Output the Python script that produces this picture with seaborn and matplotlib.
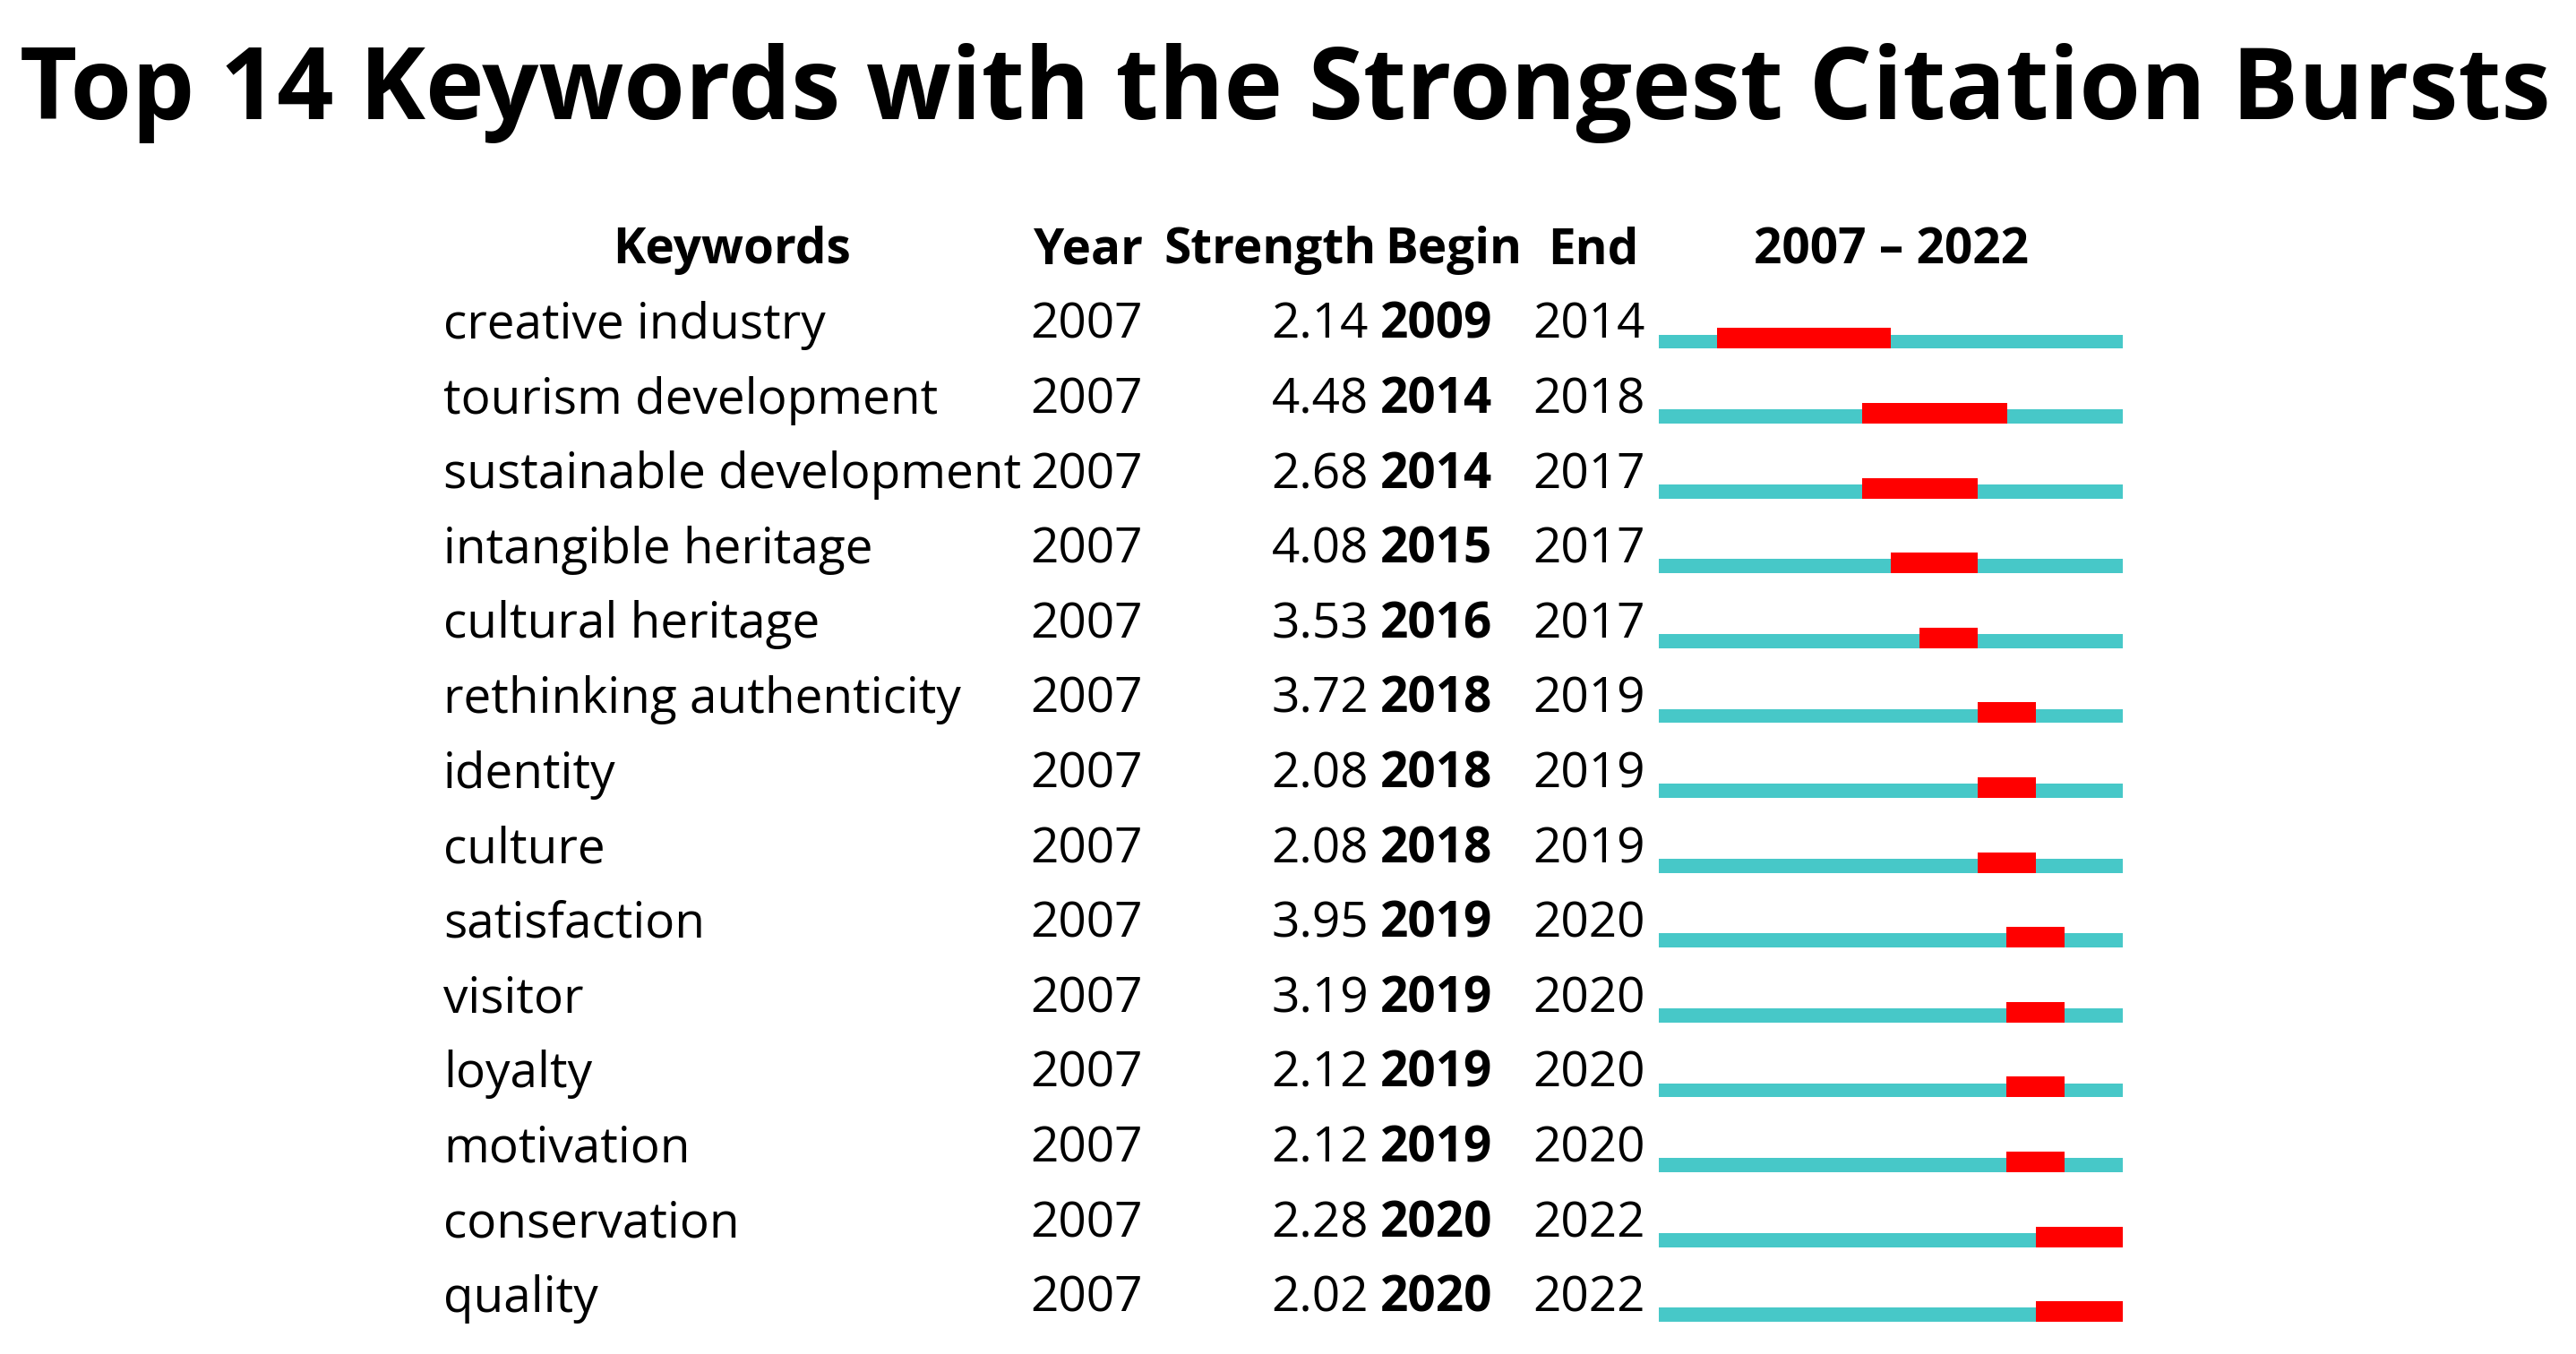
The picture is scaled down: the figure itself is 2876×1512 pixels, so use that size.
import numpy as np
import matplotlib
matplotlib.use("Agg")
import matplotlib.pyplot as plt
import matplotlib.transforms as mtransforms
import seaborn as sns

# data
keywords = ["creative industry", "tourism development", "sustainable development",
            "intangible heritage", "cultural heritage", "rethinking authenticity",
            "identity", "culture", "satisfaction", "visitor", "loyalty",
            "motivation", "conservation", "quality"]
year = [2007] * 14
strength = [2.14, 4.48, 2.68, 4.08, 3.53, 3.72, 2.08, 2.08, 3.95, 3.19, 2.12, 2.12, 2.28, 2.02]
begin = [2009, 2014, 2014, 2015, 2016, 2018, 2018, 2018, 2019, 2019, 2019, 2019, 2020, 2020]
end = [2014, 2018, 2017, 2017, 2017, 2019, 2019, 2019, 2020, 2020, 2020, 2020, 2022, 2022]
first_year = 2007
last_year = 2022
headers = ["Keywords", "Year", "Strength", "Begin", "End"]

sns.set_theme(style="white")
plt.rcParams['font.family'] = ['Open Sans', 'DejaVu Sans']
plt.rcParams['text.color'] = 'black'

W, H = 2876, 1512
fig = plt.figure(figsize=(W / 100, H / 100), dpi=100)
fig.patch.set_facecolor("white")

n = len(keywords)
pitch = 83.6          # px between rows
row0 = 381.5          # px from top, centre of first teal bar
top = row0 - 0.5 * pitch
bottom = row0 + (n - 0.5) * pitch
ax = fig.add_axes([1852 / W, 1 - bottom / H, 518 / W, (bottom - top) / H])

teal = "#47C8C8"
rows = np.arange(n)
span = [last_year - first_year + 1] * n
sns.barplot(x=span, y=rows, orient="h", color=teal, saturation=1, width=0.19,
            linewidth=0, errorbar=None, ax=ax)

left = np.array(begin) - first_year
dur = np.array(end) - np.array(begin) + 1
ax.barh(rows - 0.042, dur, left=left, height=0.275, color="#FF0000",
        linewidth=0, zorder=3)

ax.set_xlim(0, last_year - first_year + 1)
ax.set_ylim(n - 0.5, -0.5)
ax.axis("off")

trans = mtransforms.blended_transform_factory(fig.transFigure, ax.transData)
fs = 39.5
base = -0.042
for i in range(n):
    y = i + base
    ax.text(495 / W, y, keywords[i], transform=trans, fontsize=fs, va="baseline", ha="left")
    ax.text(1150 / W, y, str(year[i]), transform=trans, fontsize=fs, va="baseline", ha="left")
    ax.text(1528 / W, y, f"{strength[i]:.2f}", transform=trans, fontsize=fs, va="baseline", ha="right")
    ax.text(1541 / W, y, str(begin[i]), transform=trans, fontsize=fs, va="baseline", ha="left",
            fontweight="bold")
    ax.text(1711 / W, y, str(end[i]), transform=trans, fontsize=fs, va="baseline", ha="left")

# header row sits one row above the first keyword
hy = -1 + base
ax.text(817 / W, hy, headers[0], transform=trans, fontsize=fs, va="baseline", ha="center", fontweight="bold")
ax.text(1154 / W, hy, headers[1], transform=trans, fontsize=fs, va="baseline", ha="left", fontweight="bold")
ax.text(1537 / W, hy, headers[2], transform=trans, fontsize=fs, va="baseline", ha="right", fontweight="bold")
ax.text(1546 / W, hy, headers[3], transform=trans, fontsize=fs, va="baseline", ha="left", fontweight="bold")
ax.text(1728 / W, hy, headers[4], transform=trans, fontsize=fs, va="baseline", ha="left", fontweight="bold")
ax.text(0.5, hy, f"{first_year} \u2013 {last_year}",
        transform=mtransforms.blended_transform_factory(ax.transAxes, ax.transData),
        fontsize=fs, va="baseline", ha="center", fontweight="bold")

title = fig.text(1435 / W, 1 - 133 / H, f"Top {n} Keywords with the Strongest Citation Bursts",
                 fontsize=83.7, fontweight="bold", ha="center", va="baseline")
# shrink the title so it spans the same width as in the reference
renderer = fig.canvas.get_renderer()
tw = title.get_window_extent(renderer).width
title.set_fontsize(83.7 * min(1.0, 2826 / tw))

fig.savefig("out.png", dpi=100, facecolor="white")
